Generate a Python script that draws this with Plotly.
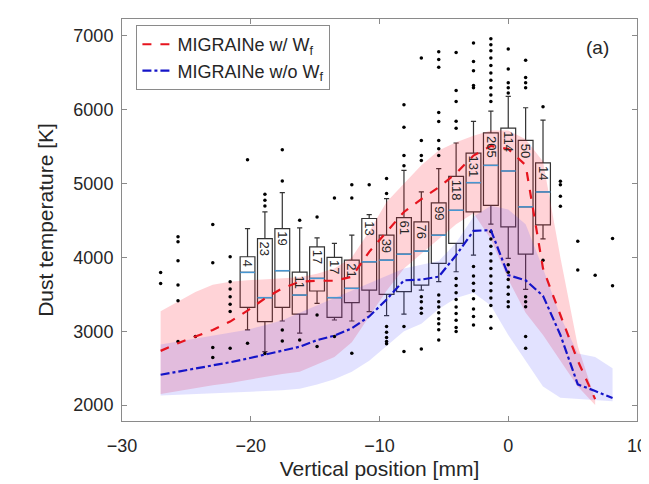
import plotly.graph_objects as go

# ---------------- data ----------------
box_pos = [-20.25, -18.9, -17.55, -16.2, -14.85, -13.5, -12.15, -10.8, -9.45,
           -8.1, -6.75, -5.4, -4.05, -2.7, -1.35, 0.0, 1.35, 2.7]
box_counts = [4, 23, 19, 11, 17, 17, 21, 13, 39, 61, 76, 99, 118, 131, 205, 114, 50, 14]
box_q3 = [4009, 4256, 4391, 3800, 4144, 4000, 3963, 4527, 4301, 4540, 4482, 4739,
          5098, 5414, 5688, 5752, 5585, 5280]
box_q1 = [3324, 3131, 3324, 3233, 3545, 3189, 3387, 3558, 3500, 3536, 3625, 3919,
          4189, 4616, 4706, 4414, 4044, 4440]
box_med = [3797, 3455, 3820, 3490, 3716, 3455, 3581, 3941, 3963, 4044, 4085, 4301,
           4639, 5013, 5247, 5171, 4685, 4887]
box_hi = [4391, 4616, 4878, 4400, 4266, 4189, 4301, 4581, 4797, 5180, 4887, 5202,
          5550, 5842, 5981, 6181, 6028, 5860]
box_lo = [3018, 2725, 3139, 2975, 3378, 3152, 3139, 3266, 3212, 3233, 3558, 3671,
          3806, 4030, 4450, 3986, 3567, 4250]

out_x = ([-27] * 2 + [-25.65] * 6 + [-24.3] + [-22.95] * 4 + [-21.6] * 7 + [-20.25] * 2
         + [-18.9] * 4 + [-17.55] * 4 + [-16.2] * 2 + [-14.85] * 3 + [-13.5] * 2
         + [-12.15] * 3 + [-10.8] + [-9.45] * 7 + [-8.1] * 6 + [-6.75] * 9
         + [-5.4] * 16 + [-4.05] * 14 + [-2.7] * 13 + [-1.35] * 23 + [0.0] * 12
         + [1.35] * 9 + [2.7] * 2 + [4.05] * 4 + [5.4] * 2 + [6.75] + [8.1] * 2)
out_y = ([3797, 3648]
         + [4279, 4211, 3954, 3625, 3414, 2860]
         + [2928]
         + [4445, 3928, 2779, 2644]
         + [4009, 3671, 3571, 3468, 3364, 3266, 2770]
         + [5323, 2838]
         + [4855, 4774, 4698, 2700]
         + [5459, 5036, 3018, 2869]
         + [4503, 2882]
         + [4549, 3220, 2793]
         + [4805, 2928]
         + [4986, 4805, 2703]
         + [4986]
         + [5068, 4865, 3063, 2986, 2915, 2860, 2830]
         + [6067, 5765, 5382, 5242, 3063, 2725]
         + [6703, 5585, 5382, 5314, 3468, 3400, 3310, 3243, 2761]
         + [6786, 6680, 6577, 5962, 5842, 5585, 5472, 5382, 3490, 3400, 3330, 3250,
            3170, 3100, 3020, 2880]
         + [6777, 6261, 6112, 5846, 5749, 3716, 3620, 3520, 3430, 3330, 3240, 3150,
            3050, 2996]
         + [6904, 6655, 6530, 6330, 6297, 3878, 3750, 3650, 3550, 3440, 3300, 3200, 3085]
         + [6964, 6880, 6800, 6700, 6600, 6500, 6400, 6300, 6200, 6112, 4350, 4250,
            4150, 4050, 3950, 3850, 3750, 3650, 3550, 3450, 3350, 3200, 3040]
         + [6823, 6553, 6368, 6300, 6229, 3901, 3800, 3700, 3600, 3500, 3400, 3333]
         + [6670, 6438, 6368, 6298, 3468, 3400, 3333, 2928, 2770]
         + [6042, 3963]
         + [5031, 4986, 4828, 4693]
         + [4220, 3828]
         + [3760]
         + [4256, 3617])

red_x = [-27, -25.65, -24.3, -22.95, -21.6, -20.25, -18.9, -17.55, -16.2, -14.85,
         -13.5, -12.15, -10.8, -9.45, -8.1, -6.75, -5.4, -4.05, -2.7, -1.35, 0.0,
         1.35, 2.7, 4.05, 5.4, 6.75]
red_mean = [2734, 2838, 2928, 3018, 3131, 3279, 3445, 3581, 3671, 3684, 3684, 3739,
            4076, 4347, 4616, 4790, 4950, 5140, 5380, 5510, 5470, 5250, 3850, 3220,
            2600, 2080]
red_upper = [3270, 3400, 3530, 3630, 3670, 3690, 3700, 3710, 3730, 3780, 3850, 4000,
             4350, 4750, 5000, 5250, 5450, 5560, 5650, 5720, 5720, 5600, 5300, 4000,
             2800, 2080]
red_lower = [2150, 2190, 2230, 2270, 2300, 2330, 2380, 2420, 2450, 2550, 2650, 2850,
             3200, 3550, 3850, 4050, 4250, 4450, 4600, 4250, 3700, 3250, 2950, 2600,
             2250, 2000]

blue_x = [-27, -25.65, -24.3, -22.95, -21.6, -20.25, -18.9, -17.55, -16.2, -14.85,
          -13.5, -12.15, -10.8, -9.45, -8.1, -6.75, -5.4, -4.05, -2.7, -1.35, 0.0,
          1.35, 2.7, 4.05, 5.4, 6.75, 8.1]
blue_mean = [2410, 2450, 2490, 2530, 2580, 2630, 2680, 2730, 2790, 2880, 2940, 3040,
             3200, 3430, 3690, 3700, 3740, 4030, 4360, 4370, 3760, 3690, 3480, 2950,
             2280, 2190, 2095]
blue_upper = [2820, 2860, 2900, 2940, 2980, 3020, 3080, 3150, 3250, 3350, 3450, 3550,
              3650, 3750, 3850, 3900, 3950, 4200, 4550, 4700, 4650, 4450, 3850, 3200,
              2700, 2650, 2500]
blue_lower = [2130, 2140, 2150, 2160, 2170, 2180, 2190, 2200, 2220, 2280, 2350, 2450,
              2600, 2800, 3000, 3100, 3300, 3450, 3520, 3350, 2950, 2600, 2250, 2100,
              2080, 2070, 2050]

x_ticks = [-30, -20, -10, 0, 10]
y_ticks = [2000, 3000, 4000, 5000, 6000, 7000]

# ---------------- figure ----------------
FONT = "Liberation Sans, Arial, sans-serif"
TXT = "#262626"
AX = "#8a8a8a"
BOX_W = 1.15

fig = go.Figure()

fig.add_trace(go.Scatter(
    x=red_x + red_x[::-1], y=red_upper + red_lower[::-1], fill="toself",
    fillcolor="rgba(255,20,40,0.19)", line=dict(width=0), mode="lines",
    showlegend=False, hoverinfo="skip"))
fig.add_trace(go.Scatter(
    x=blue_x + blue_x[::-1], y=blue_upper + blue_lower[::-1], fill="toself",
    fillcolor="rgba(60,60,255,0.15)", line=dict(width=0), mode="lines",
    showlegend=False, hoverinfo="skip"))

fig.add_trace(go.Box(
    x=box_pos, q1=box_q1, median=box_med, q3=box_q3,
    lowerfence=box_lo, upperfence=box_hi, boxpoints=False,
    width=BOX_W, whiskerwidth=0.35, fillcolor="rgba(0,0,0,0)",
    line=dict(color="#333333", width=1.2), showlegend=False, hoverinfo="skip"))

med_x, med_y = [], []
for p, m in zip(box_pos, box_med):
    med_x += [p - BOX_W / 2, p + BOX_W / 2, None]
    med_y += [m, m, None]
fig.add_trace(go.Scatter(x=med_x, y=med_y, mode="lines",
                         line=dict(color="rgb(70,150,210)", width=1.5),
                         showlegend=False, hoverinfo="skip"))

fig.add_trace(go.Scatter(x=out_x, y=out_y, mode="markers",
                         marker=dict(color="black", size=3.5),
                         showlegend=False, hoverinfo="skip"))

fig.add_trace(go.Scatter(x=red_x, y=red_mean, mode="lines",
                         name="MIGRAINe w/ W<sub>f</sub>",
                         line=dict(color="rgb(230,20,30)", width=2.2, dash="dash")))
fig.add_trace(go.Scatter(x=blue_x, y=blue_mean, mode="lines",
                         name="MIGRAINe w/o W<sub>f</sub>",
                         line=dict(color="rgb(20,20,200)", width=2.2, dash="dashdot")))

for p, q, n in zip(box_pos, box_q3, box_counts):
    fig.add_annotation(x=p, y=q, text=str(n), showarrow=False, textangle=90,
                       xanchor="center", yanchor="top", yshift=-1,
                       font=dict(family=FONT, size=13, color=TXT))

fig.add_annotation(x=0.95, y=0.96, xref="paper", yref="paper", text="(a)",
                   showarrow=False, font=dict(family=FONT, size=19, color=TXT))

fig.update_layout(
    width=649, height=484,
    margin=dict(l=114, r=11, t=10, b=71),
    paper_bgcolor="white", plot_bgcolor="white",
    font=dict(family=FONT, color=TXT),
    legend=dict(x=0.028, y=0.985, xanchor="left", yanchor="top",
                bgcolor="white", bordercolor=AX, borderwidth=1,
                font=dict(family=FONT, size=18, color=TXT),
                itemwidth=30, tracegroupgap=0),
)
fig.update_xaxes(range=[-30, 10], tickvals=x_ticks, ticks="inside", ticklen=5,
                 tickcolor=AX, showline=True, linecolor=AX, linewidth=1, mirror="ticks",
                 showgrid=False, zeroline=False, ticklabelstandoff=8,
                 tickfont=dict(family=FONT, size=18, color=TXT),
                 title=dict(text="Vertical position [mm]", standoff=6,
                            font=dict(family=FONT, size=21, color=TXT)))
fig.update_yaxes(range=[1784, 7230], tickvals=y_ticks, ticks="inside", ticklen=5,
                 tickcolor=AX, showline=True, linecolor=AX, linewidth=1, mirror="ticks",
                 showgrid=False, zeroline=False, ticklabelstandoff=4,
                 tickfont=dict(family=FONT, size=18, color=TXT),
                 title=dict(text="Dust temperature [K]", standoff=14,
                            font=dict(family=FONT, size=21, color=TXT)))

fig.write_html("out.html")
